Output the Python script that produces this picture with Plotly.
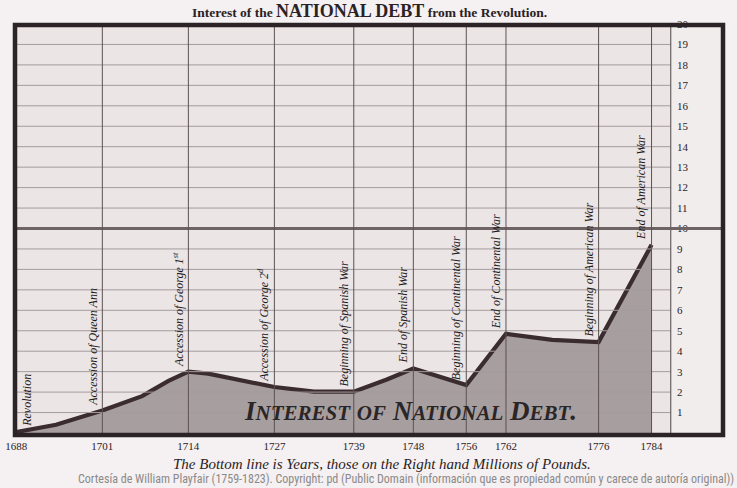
import plotly.graph_objects as go

# ---- data ----
years = [1688, 1694, 1701, 1707, 1711, 1714, 1717, 1722, 1727, 1733, 1739,
         1744, 1748, 1756, 1762, 1769, 1776, 1784]
interest = [0.05, 0.4, 1.1, 1.8, 2.55, 3.0, 2.9, 2.55, 2.25, 2.02, 2.02,
            2.62, 3.15, 2.35, 4.85, 4.55, 4.45, 9.2]

tick_years = [1688, 1701, 1714, 1727, 1739, 1748, 1756, 1762, 1776, 1784]
tick_text = ["1688", "1701", "1714", "1727", "1739", "1748", "1756", "1762", "1776", "1784"]

event_years = [1688, 1701, 1714, 1727, 1739, 1748, 1756, 1762, 1776, 1784]
event_text = ["Revolution", "Accession of Queen Ann", "Accession of George 1<sup>st</sup>",
              "Accession of George 2<sup>d</sup>", "Beginning of Spanish War",
              "End of Spanish War", "Beginning of Continental War",
              "End of Continental War", "Beginning of American War",
              "End of American War"]

millions = list(range(1, 21))
scale_year = 1786.9   # right-hand scale line

SERIF = "Liberation Serif, Times New Roman, DejaVu Serif, serif"
INK = "#2a2224"
PAPER = "#f5f0f1"

fig = go.Figure()

fig.add_trace(go.Scatter(
    x=years, y=interest, mode="lines",
    line=dict(color="#3b2c30", width=4.2),
    fill="tozeroy", fillcolor="#a69e9f",
    hoverinfo="skip", showlegend=False))

shapes = []
# right strip background (lighter)
shapes.append(dict(type="rect", xref="x", yref="y", x0=scale_year, x1=1794.8, y0=0, y1=20,
                   fillcolor="#f1eded", line=dict(width=0), layer="below"))
# horizontal rules
for v in millions:
    if v == 10:
        shapes.append(dict(type="line", xref="x", yref="y", x0=1687.8, x1=1794.8, y0=v, y1=v,
                           line=dict(color="#6e6466", width=3), layer="above"))
    else:
        shapes.append(dict(type="line", xref="x", yref="y", x0=1687.8, x1=scale_year, y0=v, y1=v,
                           line=dict(color="#a49b9d", width=1), layer="above"))
# vertical year rules
for yr in tick_years[1:]:
    shapes.append(dict(type="line", xref="x", yref="y", x0=yr, x1=yr, y0=0, y1=20,
                       line=dict(color="#5c5254", width=1), layer="above"))
shapes.append(dict(type="line", xref="x", yref="y", x0=scale_year, x1=scale_year, y0=0, y1=20,
                   line=dict(color="#6a6062", width=1.2), layer="above"))
# frame
shapes.append(dict(type="rect", xref="paper", yref="paper",
                   x0=15/737, x1=723/737, y0=1-435/488, y1=1-25/488,
                   line=dict(color="#2b2326", width=4.5), layer="above"))

annotations = []
value_at = dict(zip(years, interest))
for yr, txt in zip(event_years, event_text):
    first = yr == event_years[0]
    annotations.append(dict(
        x=yr, y=value_at[yr], xref="x", yref="y", text="<i>" + txt + "</i>",
        textangle=-90, showarrow=False,
        xanchor="left" if first else "right", yanchor="bottom",
        xshift=2 if first else -1, yshift=3,
        font=dict(family=SERIF, size=12, color="#1e1a1b")))

# title
annotations.append(dict(
    x=0.502, y=1-11/488, xref="paper", yref="paper", showarrow=False,
    text="<b>Interest of the <span style='font-size:18px'>NATIONAL DEBT</span> from the Revolution.</b>",
    font=dict(family=SERIF, size=13.5, color=INK), xanchor="center", yanchor="middle"))
# inscription in the area
annotations.append(dict(
    x=410/737, y=1-411/488, xref="paper", yref="paper", showarrow=False,
    text=("<b><i>I<span style='font-size:21px'>NTEREST</span> "
          "<span style='font-size:21px'>OF</span> N<span style='font-size:21px'>ATIONAL</span> "
          "D<span style='font-size:21px'>EBT</span>.</i></b>"),
    font=dict(family=SERIF, size=27, color="#2b2526"), xanchor="center", yanchor="middle"))
# caption
annotations.append(dict(
    x=382/737, y=1-464/488, xref="paper", yref="paper", showarrow=False,
    text="<i>The Bottom line is Years, those on the Right hand Millions of Pounds.</i>",
    font=dict(family=SERIF, size=15, color=INK), xanchor="center", yanchor="middle"))
# credit
annotations.append(dict(
    x=736/737, y=1-479/488, xref="paper", yref="paper", showarrow=False,
    text="Cortesía de William Playfair (1759-1823). Copyright: pd (Public Domain (información que es propiedad común y carece de autoría original))",
    font=dict(family="Liberation Sans Narrow, Arial Narrow, Roboto Condensed, sans-serif", size=12, color="#8a8a8a"),
    xanchor="right", yanchor="middle"))

fig.update_layout(
    width=737, height=488,
    margin=dict(l=0, r=0, t=0, b=0, autoexpand=False),
    paper_bgcolor=PAPER, plot_bgcolor="#ebe5e6",
    shapes=shapes, annotations=annotations,
    xaxis=dict(domain=[15/737, 723/737], range=[1687.8, 1794.8], automargin=False,
               tickvals=tick_years, ticktext=tick_text, showgrid=False, zeroline=False,
               showline=False, ticks="", ticklabelstandoff=5,
               tickfont=dict(family=SERIF, size=11, color=INK), fixedrange=True),
    yaxis=dict(domain=[1-433/488, 1-24/488], range=[0, 20], automargin=False,
               anchor="free", position=673/737, side="right", ticklabelstandoff=3,
               tickvals=millions, ticktext=[str(m) for m in millions],
               showgrid=False, zeroline=False, showline=False, ticks="",
               tickfont=dict(family=SERIF, size=11, color=INK), fixedrange=True),
)

fig.write_html("out.html", config={"displayModeBar": False},
               post_script="document.body.style.margin='0';document.body.style.overflow='hidden';"
                           "document.body.style.background='" + PAPER + "';")
